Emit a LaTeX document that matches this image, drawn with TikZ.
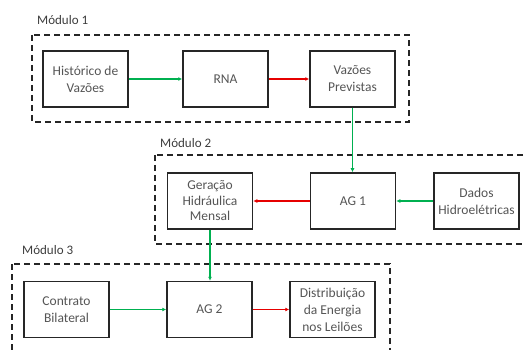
\documentclass[tikz,border=0pt]{standalone}
\usepackage{fontspec}
\setmainfont{Carlito}
\usetikzlibrary{arrows.meta}
\definecolor{txt}{RGB}{85,85,85}
\definecolor{lbl}{RGB}{60,60,60}
\definecolor{grn}{RGB}{0,176,80}
\definecolor{rd}{RGB}{230,0,0}
\tikzset{
  blk/.style={draw=black!85, line width=1.5pt, minimum width=85pt, minimum height=56pt,
    align=center, text=txt, font=\fontsize{13.5}{17}\selectfont, inner sep=0pt},
  modbox/.style={draw=black!85, line width=1.8pt, dash pattern=on 6pt off 4pt},
  modlbl/.style={anchor=west, text=lbl, font=\fontsize{13}{15}\selectfont, inner sep=0pt},
  ga/.style={draw=grn, line width=1.3pt, -{Latex[length=4pt,width=4pt]}},
  ra/.style={draw=rd, line width=1.3pt, -{Latex[length=4pt,width=4pt]}}
}
\begin{document}
\begin{tikzpicture}[x=1pt,y=-1pt]
\useasboundingbox (0,0) rectangle (525,350);
\begin{scope}
\clip (0,0) rectangle (525,350);
\draw[modbox] (32,35) rectangle (409,122);
\draw[modbox] (155,155) rectangle (535,244);
\draw[modbox] (12,264) rectangle (390,360);
\end{scope}
\node[modlbl] (m1) at (37,20) {Módulo 1};
\node[modlbl] (m2) at (160,143) {Módulo 2};
\node[modlbl] (m3) at (22,250) {Módulo 3};

\node[blk] (hist) at (85.5,79) {Histórico de\\Vazões};
\node[blk] (rna) at (225.5,79) {RNA};
\node[blk] (vaz) at (352.5,79) {Vazões\\Previstas};

\node[blk, font=\fontsize{13.5}{15.5}\selectfont] (ger) at (210,201) {Geração\\Hidráulica\\Mensal};
\node[blk] (ag1) at (353,201) {AG 1};
\node[blk] (dados) at (476.5,201) {Dados\\Hidroelétricas};

\node[blk] (con) at (66.5,309.5) {Contrato\\Bilateral};
\node[blk] (ag2) at (209.5,309.5) {AG 2};
\node[blk] (dist) at (332.5,309.5) {Distribuição\\da Energia\\nos Leilões};

\draw[ga] (hist) -- (rna);
\draw[ra] (rna) -- (vaz);
\draw[ga] (vaz.south) -- (vaz.south |- ag1.north);
\draw[ra] (ag1) -- (ger);
\draw[ga] (dados) -- (ag1);
\draw[ga] (ger.south) -- (ger.south |- ag2.north);
\draw[ga] (con) -- (ag2);
\draw[ra] (ag2) -- (dist);
\end{tikzpicture}
\end{document}
